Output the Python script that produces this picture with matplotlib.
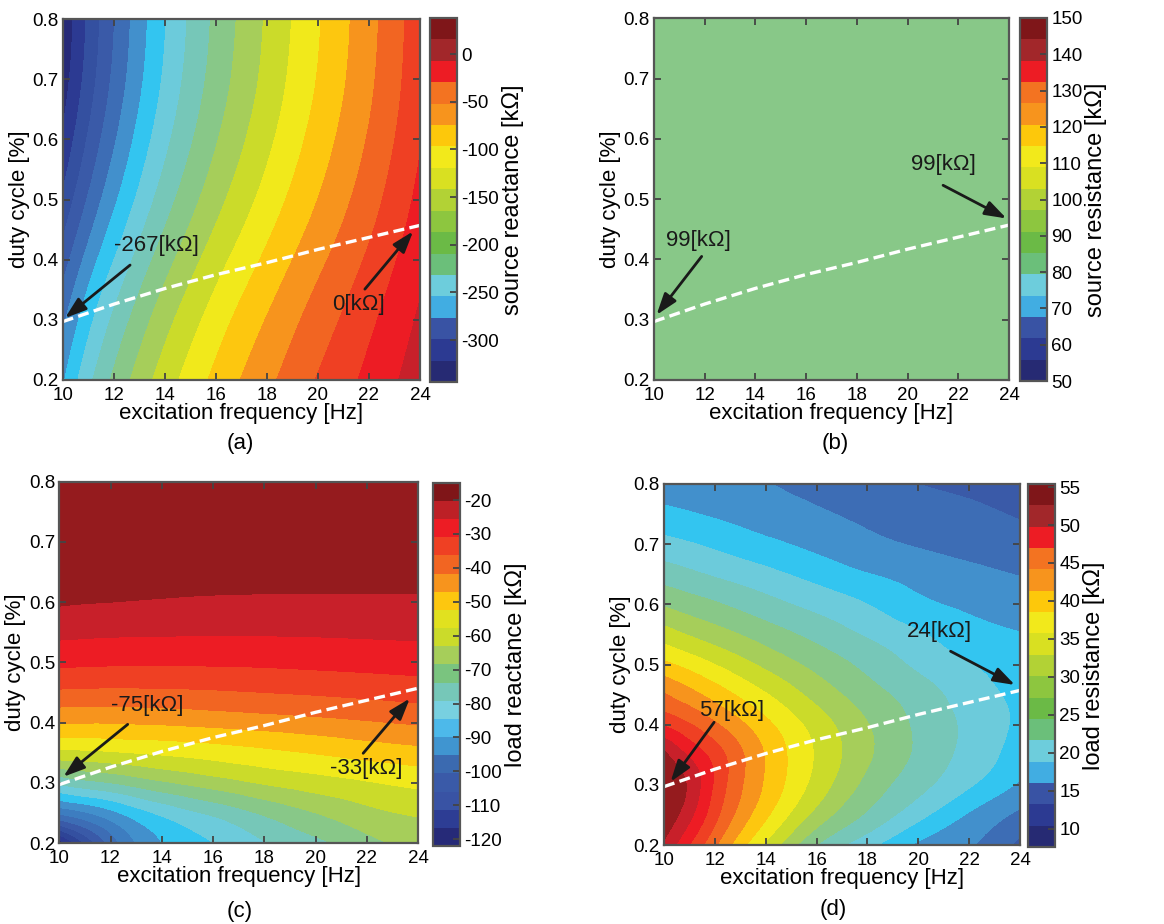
import numpy as np
import matplotlib
matplotlib.use('Agg')
import matplotlib.pyplot as plt
import matplotlib.tri as mtri
from matplotlib.colors import ListedColormap, Normalize
from matplotlib.cm import ScalarMappable
from matplotlib.ticker import FormatStrFormatter

plt.rcParams['font.family'] = ['Liberation Sans', 'DejaVu Sans']
plt.rcParams['axes.unicode_minus'] = False

# ---- optimum duty-cycle trajectory (white dashed line) ----
freq_opt = [10, 12, 14, 16, 18, 20, 22, 24]
duty_opt = [0.297, 0.326, 0.352, 0.375, 0.395, 0.417, 0.437, 0.457]

# ---- (a) source reactance [kOhm] ----
freq_a = [10, 11, 12, 13, 14, 15, 16, 17, 18, 19, 20, 21, 22, 23, 24]
duty_a = [0.2, 0.3, 0.4, 0.5, 0.6, 0.7, 0.8]
src_reac = [
    [-244.7, -205.3, -174.4, -148.5, -125.9, -106.5, -88.6, -72.2, -57.4, -43.1, -29.4, -17.0, -4.1, 9.2, 21.8],
    [-267.4, -227.5, -195.4, -168.1, -144.1, -123.6, -104.8, -87.6, -71.9, -56.7, -42.1, -28.6, -14.6, 0.0, 14.2],
    [-294.8, -254.4, -220.8, -191.8, -166.2, -144.2, -124.3, -106.3, -89.4, -73.1, -57.5, -42.6, -27.3, -11.2, 5.0],
    [-322.2, -281.4, -246.2, -215.5, -188.2, -164.9, -143.9, -124.9, -106.9, -89.5, -72.8, -56.6, -40.0, -22.3, -4.2],
    [-343.7, -302.4, -266.0, -234.0, -205.5, -181.0, -159.2, -139.5, -120.6, -102.4, -84.8, -67.5, -49.9, -31.1, -11.4],
    [-358.0, -316.5, -279.3, -246.4, -217.0, -191.8, -169.4, -149.2, -129.7, -110.9, -92.9, -74.9, -56.5, -36.9, -16.2],
    [-363.8, -322.3, -284.8, -251.5, -221.8, -196.3, -173.7, -153.3, -133.5, -114.5, -96.2, -77.9, -59.3, -39.3, -18.2],
]
src_reac_ends = [-267, 0]

# ---- (b) source resistance [kOhm] ----
freq_b = [10, 24]
duty_b = [0.2, 0.8]
src_res = [[99, 99], [99, 99]]
src_res_ends = [99, 99]

# ---- (c) load reactance [kOhm] ----
freq_c = [10, 12, 14, 16, 18, 20, 22, 24]
duty_c = [0.2, 0.25, 0.3, 0.35, 0.4, 0.45, 0.5, 0.55, 0.6, 0.65, 0.7, 0.75, 0.8]
load_reac = [
    [-123.0, -98.0, -85.0, -80.0, -75.3, -71.3, -66.6, -63.0],
    [-94.0, -86.5, -78.9, -74.0, -69.2, -65.0, -61.4, -59.4],
    [-74.0, -70.0, -65.8, -62.5, -59.5, -57.3, -55.4, -53.7],
    [-56.3, -55.5, -54.2, -52.8, -51.2, -49.7, -48.1, -46.8],
    [-44.8, -44.8, -44.3, -43.5, -42.6, -41.6, -40.5, -39.4],
    [-35.9, -36.2, -36.0, -35.6, -35.0, -34.4, -33.7, -32.9],
    [-28.9, -29.3, -29.4, -29.3, -29.1, -28.7, -28.3, -27.9],
    [-23.7, -24.2, -24.4, -24.5, -24.5, -24.4, -24.2, -24.0],
    [-19.6, -20.0, -20.4, -20.7, -20.8, -20.8, -20.8, -20.8],
    [-17.8, -18.0, -18.2, -18.4, -18.5, -18.6, -18.6, -18.6],
    [-16.8, -17.0, -17.2, -17.3, -17.4, -17.5, -17.5, -17.6],
    [-16.0, -16.2, -16.4, -16.5, -16.6, -16.7, -16.8, -16.9],
    [-15.5, -15.7, -15.9, -16.0, -16.1, -16.2, -16.3, -16.4],
]
load_reac_ends = [-75, -33]

# ---- (d) load resistance [kOhm] ----
freq_d = [10, 11, 12, 14, 16, 18, 20, 22, 24]
duty_d = [0.2, 0.25, 0.3, 0.35, 0.4, 0.45, 0.5, 0.55, 0.6, 0.65, 0.7, 0.75, 0.8]
load_res = [
    [54.5, 50.0, 45.4, 37.0, 30.0, 25.8, 22.0, 20.2, 16.8],
    [56.8, 53.2, 48.3, 40.5, 34.1, 29.6, 25.8, 22.2, 19.4],
    [57.3, 54.5, 49.6, 42.1, 36.5, 31.7, 28.3, 25.3, 22.1],
    [55.6, 52.1, 48.9, 42.3, 37.2, 32.9, 29.5, 26.6, 23.9],
    [49.7, 47.7, 45.4, 40.7, 36.4, 32.6, 29.5, 26.9, 24.5],
    [45.2, 43.4, 41.5, 37.7, 34.1, 31.1, 28.7, 26.3, 24.3],
    [40.6, 39.1, 37.5, 34.4, 31.7, 29.3, 27.0, 25.1, 23.6],
    [36.2, 34.8, 33.6, 31.3, 29.2, 27.2, 25.3, 23.5, 22.6],
    [32.2, 31.2, 30.3, 28.4, 26.7, 25.0, 23.1, 22.0, 21.3],
    [28.8, 28.0, 27.2, 25.7, 24.1, 22.6, 21.5, 20.6, 19.9],
    [25.8, 25.2, 24.5, 23.1, 21.8, 20.6, 19.8, 19.1, 18.5],
    [23.2, 22.7, 22.2, 21.2, 20.3, 19.5, 18.7, 18.0, 17.3],
    [21.0, 20.8, 20.6, 20.1, 19.3, 18.5, 17.5, 16.9, 16.3],
]
load_res_ends = [57, 24]

# colour bar palettes (jet-like steps)
cbar17 = ['#262a73', '#2c3a92', '#3953a4', '#41ade2', '#6dcddc', '#6bbf7a',
          '#6bba46', '#8dc63f', '#b2d235', '#d9e021', '#f2e91b', '#fdc80b',
          '#f7941d', '#f37321', '#ed1c24', '#a2272a', '#7f1619']
cbar20 = ['#262a78', '#2d3d94', '#3953a4', '#3a5aa8', '#3b6ab0', '#4095d0',
          '#4db9ea', '#78d0e0', '#76c7b8', '#7ac47f', '#a6ce5a', '#cbdb2a',
          '#e1e11f', '#fdc70f', '#f7941d', '#f26522', '#ef4023', '#ed1c24',
          '#bd2026', '#7f1518']

# filled band colours, low -> high
bands_a = ['#262a78', '#2c3a92', '#3450a0', '#3a5aa8', '#3d6db5', '#4290cc',
           '#33c5f0', '#6ccbdb', '#76c7b8', '#88c888', '#a6ce5a', '#cbdb2a',
           '#f1e91b', '#fdc70f', '#f7941d', '#f26522', '#ef4023', '#ed1c24',
           '#c8202a']
bands_c = ['#262a78', '#2c3a92', '#2e4496', '#3450a0', '#3a5aa8', '#3d6db5',
           '#3d7dc0', '#4290cc', '#33c5f0', '#6ccbdb', '#76c7b8', '#88c888',
           '#a6ce5a', '#cbdb2a', '#f1e91b', '#fdc70f', '#f7941d', '#f26522',
           '#ef4023', '#ed1c24', '#c8202a', '#951b1e']
bands_d = ['#262a78', '#2c3a92', '#3450a0', '#3a5aa8', '#3d6db5', '#4290cc',
           '#33c5f0', '#6ccbdb', '#76c7b8', '#88c888', '#a6ce5a', '#cbdb2a',
           '#f1e91b', '#fdc70f', '#f7941d', '#f26522', '#ef4023', '#ed1c24',
           '#c8202a', '#951b1e']

levels_a = np.r_[-420, -368 + 21.07 * np.arange(1, 19), 60]
levels_c = np.r_[-140, np.arange(-120, -19, 5), -5]
levels_d = np.r_[np.arange(7.5, 55.1, 2.5), 62]

fig = plt.figure(figsize=(11.64, 9.24), dpi=100)
W, H = 1164.0, 924.0


def box(x0, y0, x1, y1):
    return [x0 / W, 1 - y1 / H, (x1 - x0) / W, (y1 - y0) / H]


def fill_map(ax, freq, duty, z, levels, colors):
    F, D = np.meshgrid(freq, duty)
    ny, nx = F.shape
    idx = np.arange(ny * nx).reshape(ny, nx)
    p, q = idx[:-1, :-1].ravel(), idx[:-1, 1:].ravel()
    r, s = idx[1:, 1:].ravel(), idx[1:, :-1].ravel()
    tris = np.vstack([np.column_stack([p, q, r]), np.column_stack([p, r, s])])
    # stretch duty so grid cells are roughly square for the cubic refiner
    k = np.diff(freq).mean() / np.diff(duty).mean()
    tri = mtri.Triangulation(F.ravel(), D.ravel() * k, tris)
    tri_r, z_r = mtri.UniformTriRefiner(tri).refine_field(
        np.asarray(z, float).ravel(), subdiv=3)
    tri_r = mtri.Triangulation(tri_r.x, tri_r.y / k, tri_r.triangles)
    ax.tricontourf(tri_r, z_r, levels=levels, colors=colors)


def style_axes(ax):
    ax.set_xlim(10, 24)
    ax.set_ylim(0.2, 0.8)
    ax.set_xticks(np.arange(10, 25, 2))
    ax.set_yticks(np.arange(0.2, 0.81, 0.1))
    ax.yaxis.set_major_formatter(FormatStrFormatter('%.1f'))
    ax.tick_params(direction='in', top=True, right=True, length=5, width=1.3,
                   color='#444444', labelsize=13.5, pad=3)
    ax.tick_params(axis='x', pad=5)
    for sp in ax.spines.values():
        sp.set_color('#555555')
        sp.set_linewidth(1.6)
    ax.set_xlabel('excitation frequency [Hz]', fontsize=16, labelpad=-1)
    ax.set_ylabel('duty cycle [%]', fontsize=16, labelpad=2)


def add_cbar(cax, colors, vmin, vmax, ticks, label):
    sm = ScalarMappable(norm=Normalize(vmin, vmax), cmap=ListedColormap(colors))
    cb = fig.colorbar(sm, cax=cax, ticks=ticks)
    cb.outline.set_edgecolor('#555555')
    cb.outline.set_linewidth(1.6)
    cax.tick_params(direction='in', length=5, width=1.3, color='#444444',
                    labelsize=13.5, pad=3)
    cb.set_label(label, fontsize=17, labelpad=2)


def callouts(ax, values, geo):
    for v, (txt, tail, tip) in zip(values, geo):
        ax.text(txt[0], txt[1], f'{v}[k\u03a9]', fontsize=16, color='#1a1a1a',
                ha='center', va='center')
        ax.annotate('', xy=tip, xytext=tail,
                    arrowprops=dict(arrowstyle='-|>,head_length=0.65,head_width=0.22',
                                    color='#1a1a1a', lw=2, mutation_scale=20,
                                    shrinkA=0, shrinkB=0))


def opt_line(ax):
    ax.plot(freq_opt, duty_opt, color='white', lw=2.4, ls=(0, (3.3, 1.6)),
            dash_capstyle='butt')


# (a)
ax_a = fig.add_axes(box(62.7, 19, 420, 380))
fill_map(ax_a, freq_a, duty_a, src_reac, levels_a, bands_a)
opt_line(ax_a)
callouts(ax_a, src_reac_ends,
         [((13.66, 0.424), (12.64, 0.391), (10.09, 0.303)),
          ((21.6, 0.325), (21.84, 0.351), (23.73, 0.447))])
style_axes(ax_a)
add_cbar(fig.add_axes(box(430, 18, 457, 382)), cbar17, -344, 38,
         [-300, -250, -200, -150, -100, -50, 0], 'source reactance [k\u03a9]')
fig.text(240 / W, 1 - 443 / H, '(a)', fontsize=16, ha='center', va='center')

# (b)
ax_b = fig.add_axes(box(654, 18.3, 1009, 380))
ax_b.contourf(freq_b, duty_b, src_res, levels=[50, 150], colors=['#88c888'])
opt_line(ax_b)
callouts(ax_b, src_res_ends,
         [((11.76, 0.432), (11.88, 0.405), (10.1, 0.308)),
          ((21.43, 0.557), (21.4, 0.523), (23.9, 0.468))])
style_axes(ax_b)
add_cbar(fig.add_axes(box(1020, 18, 1047, 381)), cbar17, 50, 150,
         list(range(50, 151, 10)), 'source resistance [k\u03a9]')
fig.text(835 / W, 1 - 443 / H, '(b)', fontsize=16, ha='center', va='center')

# (c)
ax_c = fig.add_axes(box(59.3, 481.7, 418, 843))
fill_map(ax_c, freq_c, duty_c, load_reac, levels_c, bands_c)
opt_line(ax_c)
callouts(ax_c, load_reac_ends,
         [((13.45, 0.429), (12.67, 0.397), (10.16, 0.31)),
          ((21.99, 0.323), (21.86, 0.349), (23.68, 0.44))])
style_axes(ax_c)
add_cbar(fig.add_axes(box(432.7, 482.7, 460, 846)), cbar20, -122, -14.9,
         list(range(-120, -19, 10)), 'load reactance [k\u03a9]')
fig.text(240 / W, 1 - 912 / H, '(c)', fontsize=16, ha='center', va='center')

# (d)
ax_d = fig.add_axes(box(664, 484, 1020, 845))
fill_map(ax_d, freq_d, duty_d, load_res, levels_d, bands_d)
opt_line(ax_d)
callouts(ax_d, load_res_ends,
         [((12.65, 0.424), (11.97, 0.404), (10.26, 0.305)),
          ((20.83, 0.555), (21.27, 0.522), (23.8, 0.466))])
style_axes(ax_d)
add_cbar(fig.add_axes(box(1028, 484, 1055, 847)), cbar17, 7.6, 55.4,
         list(range(10, 56, 5)), 'load resistance [k\u03a9]')
fig.text(833 / W, 1 - 910 / H, '(d)', fontsize=16, ha='center', va='center')

fig.savefig('out.png', dpi=100)
